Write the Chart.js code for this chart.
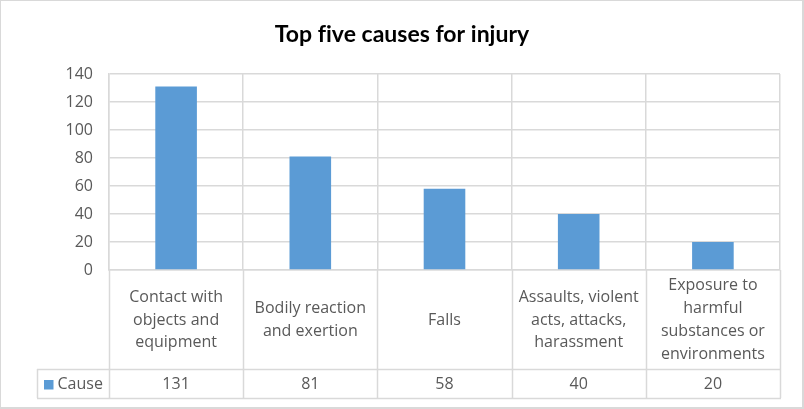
<!DOCTYPE html>
<html>
<head>
<meta charset="utf-8">
<script src="https://cdn.jsdelivr.net/npm/chart.js@4/dist/chart.umd.min.js"></script>
<style>
  html, body { margin: 0; padding: 0; background: #ffffff; }
  #wrap { width: 804px; height: 409px; position: relative; }
  canvas { display: block; }
</style>
</head>
<body>
<div id="wrap"><canvas id="c" width="804" height="409"></canvas></div>
<script>
// ---- data ----
const categories = [
  ["Contact with", "objects and", "equipment"],
  ["Bodily reaction", "and exertion"],
  ["Falls"],
  ["Assaults, violent", "acts, attacks,", "harassment"],
  ["Exposure to", "harmful", "substances or", "environments"]
];
const seriesName = "Cause";
const causeValues = [131, 81, 58, 40, 20];
const yTicks = [0, 20, 40, 60, 80, 100, 120, 140];
const chartTitle = "Top five causes for injury";

// ---- style ----
const GRID = "#d9d9d9";
const TEXT = "#595959";
const BAR = "#5b9bd5";
const FONT = "'Open Sans', sans-serif";

const tablePlugin = {
  id: "dataTable",
  afterDraw(chart) {
    const ctx = chart.ctx;
    const area = chart.chartArea;
    const x = chart.scales.x;
    const n = categories.length;
    const catW = (area.right - area.left) / n;
    const row1Bottom = area.bottom + 99;
    const row2Bottom = row1Bottom + 29;
    const legendLeft = 37;

    ctx.save();
    ctx.strokeStyle = GRID;
    ctx.lineWidth = 1.5;
    ctx.beginPath();
    for (let i = 0; i <= n; i++) {
      const px = i === n
        ? Math.round(x.getPixelForValue(n - 1) + catW / 2) + 0.5
        : Math.round(x.getPixelForValue(i) - catW / 2) + 0.5;
      ctx.moveTo(px, area.bottom);
      ctx.lineTo(px, row2Bottom);
    }
    ctx.moveTo(legendLeft + 0.5, row1Bottom);
    ctx.lineTo(legendLeft + 0.5, row2Bottom);
    ctx.moveTo(legendLeft, row1Bottom + 0.5);
    ctx.lineTo(area.right, row1Bottom + 0.5);
    ctx.moveTo(legendLeft, row2Bottom + 0.5);
    ctx.lineTo(area.right + 1, row2Bottom + 0.5);
    ctx.stroke();

    ctx.fillStyle = TEXT;
    ctx.font = "16px " + FONT;
    ctx.textAlign = "center";
    ctx.textBaseline = "middle";
    const lh = 22.8;
    const midY = (area.bottom + row1Bottom) / 2 + 0.5;
    categories.forEach((lines, i) => {
      const cx = x.getPixelForValue(i);
      const start = midY - (lines.length - 1) * lh / 2;
      lines.forEach((t, j) => ctx.fillText(t, cx, start + j * lh));
    });
    const dataY = (row1Bottom + row2Bottom) / 2 + 1;
    causeValues.forEach((v, i) => {
      ctx.fillText(String(v), x.getPixelForValue(i), dataY);
    });
    ctx.fillStyle = BAR;
    ctx.fillRect(44, dataY - 4.5, 9.5, 9.5);
    ctx.fillStyle = TEXT;
    ctx.textAlign = "left";
    ctx.fillText(seriesName, 57.5, dataY);

    ctx.fillStyle = GRID;
    ctx.fillRect(0, 0, chart.width, 1);
    ctx.fillRect(0, 0, 1, chart.height);
    ctx.fillRect(chart.width - 2, 0, 2, chart.height);
    ctx.fillRect(0, chart.height - 2, chart.width, 2);
    ctx.restore();
  }
};

const bgPlugin = {
  id: "bg",
  beforeDraw(chart) {
    const ctx = chart.ctx;
    // tiny letter spacing turns off the "fi" ligature in the title
    try { ctx.letterSpacing = "0.01px"; } catch (e) {}
    ctx.save();
    ctx.fillStyle = "#ffffff";
    ctx.fillRect(0, 0, chart.width, chart.height);
    ctx.restore();
  }
};

new Chart(document.getElementById("c"), {
  type: "bar",
  data: {
    labels: categories,
    datasets: [{
      label: seriesName,
      data: causeValues,
      backgroundColor: BAR,
      borderWidth: 0,
      barPercentage: 1,
      categoryPercentage: 0.31
    }]
  },
  options: {
    responsive: false,
    devicePixelRatio: 1,
    animation: false,
    layout: { padding: { left: 0, right: 0, top: 0, bottom: 139 } },
    plugins: {
      legend: { display: false },
      tooltip: { enabled: false },
      title: {
        display: true,
        text: chartTitle,
        color: "#000000",
        font: { family: "Lato, sans-serif", size: 23, weight: "bold", lineHeight: 1.2 },
        padding: { top: 21, bottom: 25.4 }
      }
    },
    scales: {
      x: {
        offset: true,
        grid: { display: true, offset: true, color: GRID, lineWidth: 1.5, drawTicks: false },
        border: { display: true, color: GRID, width: 1.5 },
        ticks: { display: false }
      },
      y: {
        min: 0,
        max: 140,
        afterFit(scale) { scale.width = 109; },
        afterBuildTicks(scale) { scale.ticks = yTicks.map(v => ({ value: v })); },
        grid: { color: GRID, lineWidth: 1.5, drawTicks: false },
        border: { display: true, color: GRID, width: 1.5 },
        ticks: { color: TEXT, font: { family: FONT, size: 16 }, padding: 16 }
      },
      yRightSpace: {
        position: "right",
        display: true,
        afterFit(scale) { scale.width = 24; },
        grid: { display: false, drawTicks: false },
        border: { display: false },
        ticks: { display: false }
      }
    }
  },
  plugins: [bgPlugin, tablePlugin]
});
</script>
</body>
</html>
